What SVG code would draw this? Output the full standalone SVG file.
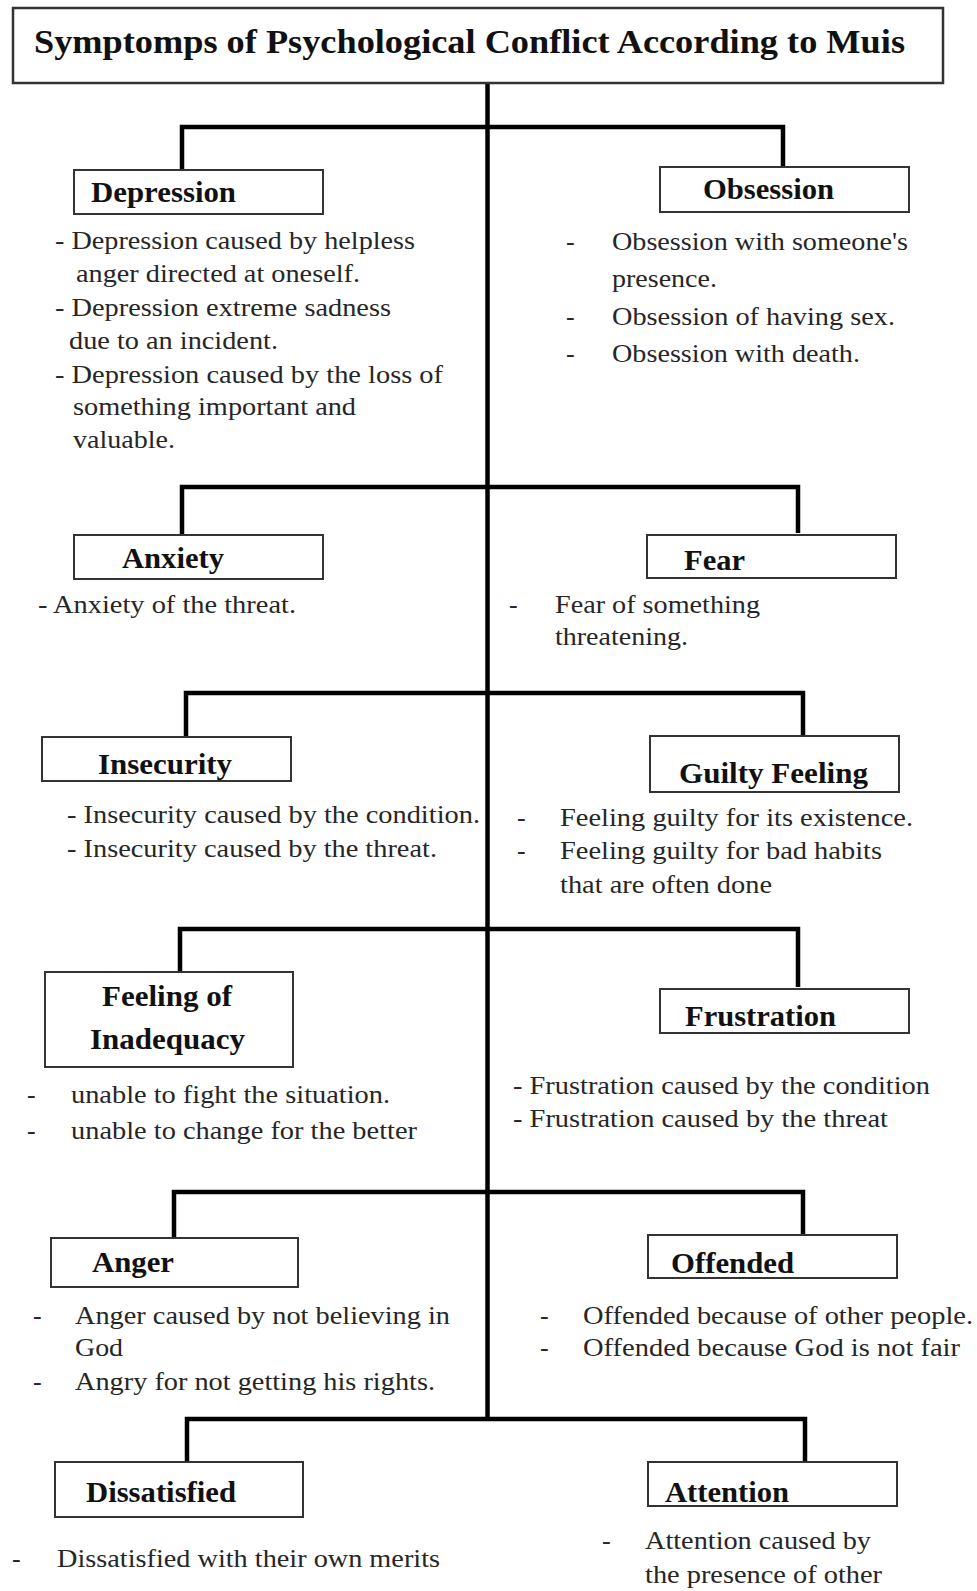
<svg xmlns="http://www.w3.org/2000/svg" width="977" height="1591" viewBox="0 0 977 1591">
<style>
.box{fill:#fff;stroke:#333;stroke-width:2}
.lbl{font-family:"Liberation Serif","Times New Roman",serif;font-weight:bold;font-size:30px;fill:#111}
.txt{font-family:"Liberation Serif","Times New Roman",serif;font-size:26px;fill:#262626}
.ttl{font-family:"Liberation Serif","Times New Roman",serif;font-weight:bold;font-size:33px;fill:#111}
.con{fill:none;stroke:#000;stroke-width:4.5;stroke-linejoin:miter}
</style>
<rect width="977" height="1591" fill="#fff"/>
<g id="connectors">
<line class="con" x1="487.5" y1="83" x2="487.5" y2="1421"/>
<polyline class="con" points="182,170 182,127 783,127 783,167"/>
<polyline class="con" points="182,535 182,487 798,487 798,533"/>
<polyline class="con" points="186,737 186,693 803,693 803,736"/>
<polyline class="con" points="180,972 180,929 798,929 798,987"/>
<polyline class="con" points="174,1238 174,1192 803,1192 803,1235"/>
<polyline class="con" points="187,1462 187,1419 805,1419 805,1462"/>
</g>
<g id="title">
<rect x="13" y="8" width="930" height="75" fill="#fff" stroke="#333" stroke-width="2.5"/>
<text class="ttl" x="34" y="53" textLength="871" lengthAdjust="spacingAndGlyphs">Symptomps of Psychological Conflict According to Muis</text>
</g>
<g id="depression">
<rect class="box" x="74" y="170" width="249" height="44"/>
<text class="lbl" x="91" y="202" textLength="145" lengthAdjust="spacingAndGlyphs">Depression</text>
<text class="txt" x="55" y="249" textLength="360" lengthAdjust="spacingAndGlyphs">- Depression caused by helpless</text>
<text class="txt" x="76" y="282" textLength="284" lengthAdjust="spacingAndGlyphs">anger directed at oneself.</text>
<text class="txt" x="55" y="316" textLength="336" lengthAdjust="spacingAndGlyphs">- Depression extreme sadness</text>
<text class="txt" x="69" y="349" textLength="209" lengthAdjust="spacingAndGlyphs">due to an incident.</text>
<text class="txt" x="55" y="383" textLength="388" lengthAdjust="spacingAndGlyphs">- Depression caused by the loss of</text>
<text class="txt" x="73" y="415" textLength="283" lengthAdjust="spacingAndGlyphs">something important and</text>
<text class="txt" x="73" y="448" textLength="102" lengthAdjust="spacingAndGlyphs">valuable.</text>
</g>
<g id="obsession">
<rect class="box" x="660" y="167" width="249" height="45"/>
<text class="lbl" x="703" y="199" textLength="131" lengthAdjust="spacingAndGlyphs">Obsession</text>
<text class="txt" x="566" y="250">-</text>
<text class="txt" x="612" y="250" textLength="296" lengthAdjust="spacingAndGlyphs">Obsession with someone's</text>
<text class="txt" x="612" y="287" textLength="105" lengthAdjust="spacingAndGlyphs">presence.</text>
<text class="txt" x="566" y="325">-</text>
<text class="txt" x="612" y="325" textLength="283" lengthAdjust="spacingAndGlyphs">Obsession of having sex.</text>
<text class="txt" x="566" y="362">-</text>
<text class="txt" x="612" y="362" textLength="248" lengthAdjust="spacingAndGlyphs">Obsession with death.</text>
</g>
<g id="anxiety">
<rect class="box" x="74" y="535" width="249" height="44"/>
<text class="lbl" x="122" y="568" textLength="102" lengthAdjust="spacingAndGlyphs">Anxiety</text>
<text class="txt" x="38" y="613" textLength="258" lengthAdjust="spacingAndGlyphs">- Anxiety of the threat.</text>
</g>
<g id="fear">
<rect class="box" x="647" y="535" width="249" height="43"/>
<text class="lbl" x="684" y="570" textLength="61" lengthAdjust="spacingAndGlyphs">Fear</text>
<text class="txt" x="509" y="613">-</text>
<text class="txt" x="555" y="613" textLength="205" lengthAdjust="spacingAndGlyphs">Fear of something</text>
<text class="txt" x="555" y="645" textLength="133" lengthAdjust="spacingAndGlyphs">threatening.</text>
</g>
<g id="insecurity">
<rect class="box" x="42" y="737" width="249" height="44"/>
<text class="lbl" x="98" y="774" textLength="134" lengthAdjust="spacingAndGlyphs">Insecurity</text>
<text class="txt" x="67" y="823" textLength="413" lengthAdjust="spacingAndGlyphs">- Insecurity caused by the condition.</text>
<text class="txt" x="67" y="857" textLength="370" lengthAdjust="spacingAndGlyphs">- Insecurity caused by the threat.</text>
</g>
<g id="guilty-feeling">
<rect class="box" x="650" y="736" width="249" height="56"/>
<text class="lbl" x="679" y="783" textLength="189" lengthAdjust="spacingAndGlyphs">Guilty Feeling</text>
<text class="txt" x="517" y="826">-</text>
<text class="txt" x="560" y="826" textLength="353" lengthAdjust="spacingAndGlyphs">Feeling guilty for its existence.</text>
<text class="txt" x="517" y="859">-</text>
<text class="txt" x="560" y="859" textLength="322" lengthAdjust="spacingAndGlyphs">Feeling guilty for bad habits</text>
<text class="txt" x="560" y="893" textLength="212" lengthAdjust="spacingAndGlyphs">that are often done</text>
</g>
<g id="feeling-of-inadequacy">
<rect class="box" x="45" y="972" width="248" height="95"/>
<text class="lbl" x="102" y="1006" textLength="130" lengthAdjust="spacingAndGlyphs">Feeling of</text>
<text class="lbl" x="90" y="1049" textLength="155" lengthAdjust="spacingAndGlyphs">Inadequacy</text>
<text class="txt" x="27" y="1103">-</text>
<text class="txt" x="71" y="1103" textLength="319" lengthAdjust="spacingAndGlyphs">unable to fight the situation.</text>
<text class="txt" x="27" y="1139">-</text>
<text class="txt" x="71" y="1139" textLength="346" lengthAdjust="spacingAndGlyphs">unable to change for the better</text>
</g>
<g id="frustration">
<rect class="box" x="660" y="989" width="249" height="44"/>
<text class="lbl" x="685" y="1026" textLength="151" lengthAdjust="spacingAndGlyphs">Frustration</text>
<text class="txt" x="513" y="1094" textLength="417" lengthAdjust="spacingAndGlyphs">- Frustration caused by the condition</text>
<text class="txt" x="513" y="1127" textLength="375" lengthAdjust="spacingAndGlyphs">- Frustration caused by the threat</text>
</g>
<g id="anger">
<rect class="box" x="51" y="1238" width="247" height="49"/>
<text class="lbl" x="92" y="1272" textLength="82" lengthAdjust="spacingAndGlyphs">Anger</text>
<text class="txt" x="33" y="1324">-</text>
<text class="txt" x="75" y="1324" textLength="375" lengthAdjust="spacingAndGlyphs">Anger caused by not believing in</text>
<text class="txt" x="75" y="1356" textLength="48" lengthAdjust="spacingAndGlyphs">God</text>
<text class="txt" x="33" y="1390">-</text>
<text class="txt" x="75" y="1390" textLength="360" lengthAdjust="spacingAndGlyphs">Angry for not getting his rights.</text>
</g>
<g id="offended">
<rect class="box" x="648" y="1235" width="249" height="43"/>
<text class="lbl" x="671" y="1273" textLength="123" lengthAdjust="spacingAndGlyphs">Offended</text>
<text class="txt" x="540" y="1324">-</text>
<text class="txt" x="583" y="1324" textLength="390" lengthAdjust="spacingAndGlyphs">Offended because of other people.</text>
<text class="txt" x="540" y="1356">-</text>
<text class="txt" x="583" y="1356" textLength="377" lengthAdjust="spacingAndGlyphs">Offended because God is not fair</text>
</g>
<g id="dissatisfied">
<rect class="box" x="55" y="1462" width="248" height="55"/>
<text class="lbl" x="86" y="1502" textLength="150" lengthAdjust="spacingAndGlyphs">Dissatisfied</text>
<text class="txt" x="12" y="1567">-</text>
<text class="txt" x="57" y="1567" textLength="383" lengthAdjust="spacingAndGlyphs">Dissatisfied with their own merits</text>
</g>
<g id="attention">
<rect class="box" x="648" y="1462" width="249" height="44"/>
<text class="lbl" x="665" y="1502" textLength="124" lengthAdjust="spacingAndGlyphs">Attention</text>
<text class="txt" x="602" y="1549">-</text>
<text class="txt" x="645" y="1549" textLength="226" lengthAdjust="spacingAndGlyphs">Attention caused by</text>
<text class="txt" x="645" y="1583" textLength="237" lengthAdjust="spacingAndGlyphs">the presence of other</text>
</g>
</svg>
